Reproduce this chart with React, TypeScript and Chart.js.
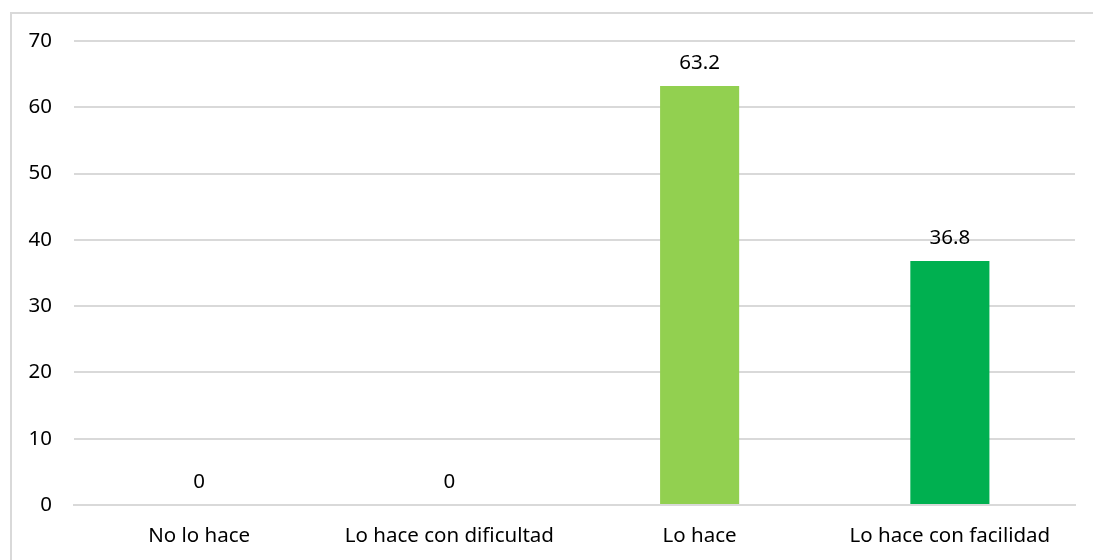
import React, { useEffect, useRef } from "react";
import { Chart, registerables } from "chart.js";

Chart.register(...registerables);

const categories = ["No lo hace", "Lo hace con dificultad", "Lo hace", "Lo hace con facilidad"];
const values = [0, 0, 63.2, 36.8];
const barColors = ["#92D050", "#92D050", "#92D050", "#00B050"];
const yTicks = [0, 10, 20, 30, 40, 50, 60, 70];

const FONT = "'Noto Sans', 'Open Sans', sans-serif";
const FS = 20.5;

const valueLabels = {
  id: "valueLabels",
  afterDatasetsDraw(chart: any) {
    const ctx = chart.ctx;
    const meta = chart.getDatasetMeta(0);
    ctx.save();
    ctx.font = `${FS}px ${FONT}`;
    ctx.fillStyle = "#000";
    ctx.textAlign = "center";
    ctx.textBaseline = "middle";
    meta.data.forEach((bar: any, i: number) => {
      ctx.fillText(String(values[i]), bar.x, bar.y - 23);
    });
    ctx.restore();
  },
};

const frame = {
  id: "frame",
  beforeDraw(chart: any) {
    const ctx = chart.ctx;
    ctx.save();
    ctx.strokeStyle = "#d9d9d9";
    ctx.lineWidth = 2;
    ctx.beginPath();
    ctx.moveTo(11, chart.height);
    ctx.lineTo(11, 13);
    ctx.lineTo(chart.width, 13);
    ctx.stroke();
    ctx.restore();
  },
};

export default function App() {
  const ref = useRef<HTMLCanvasElement>(null);
  useEffect(() => {
    if (!ref.current) return;
    const chart = new Chart(ref.current, {
      type: "bar",
      data: {
        labels: categories,
        datasets: [
          {
            data: values,
            backgroundColor: barColors,
            categoryPercentage: 1,
            barPercentage: 0.316,
          },
        ],
      },
      options: {
        animation: false,
        responsive: false,
        maintainAspectRatio: false,
        layout: { padding: { top: 41, right: 18, left: 0, bottom: 0 } },
        plugins: { legend: { display: false }, tooltip: { enabled: false } },
        scales: {
          x: {
            grid: { display: false, drawTicks: false },
            border: { display: true, color: "#d9d9d9", width: 2 },
            ticks: { color: "#000", font: { family: FONT, size: FS }, padding: 19, maxRotation: 0 },
            afterFit(scale: any) {
              scale.height = 55;
            },
          },
          y: {
            min: 0,
            max: 70,
            afterBuildTicks(scale: any) {
              scale.ticks = yTicks.map((v) => ({ value: v }));
            },
            grid: { color: "#d9d9d9", lineWidth: 2, drawTicks: false },
            border: { display: false },
            ticks: { color: "#000", font: { family: FONT, size: FS }, padding: 22 },
            afterFit(scale: any) {
              scale.width = 74;
            },
          },
        },
      },
      plugins: [valueLabels, frame],
    });
    return () => chart.destroy();
  }, []);

  return (
    <div style={{ position: "fixed", left: 0, top: 0, width: 1093, height: 560, overflow: "hidden", background: "#fff" }}>
      <canvas ref={ref} width={1093} height={560} style={{ position: "absolute", left: 0, top: 0 }} />
    </div>
  );
}
